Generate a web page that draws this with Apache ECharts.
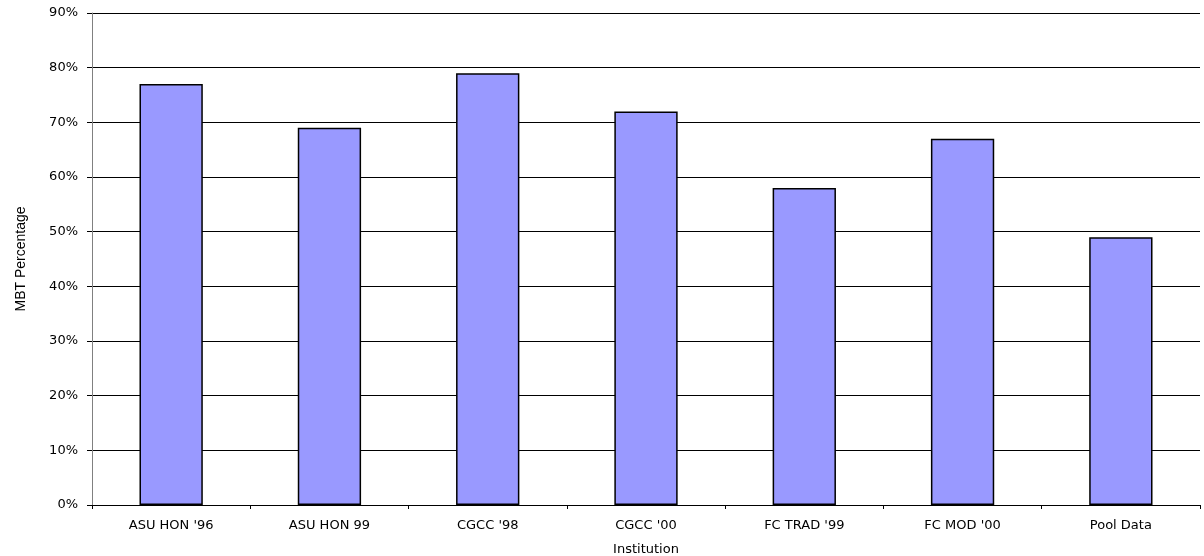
<!DOCTYPE html>
<html>
<head>
<meta charset="utf-8">
<script src="https://cdn.jsdelivr.net/npm/echarts@6/dist/echarts.min.js"></script>
<style>
  html, body { margin: 0; padding: 0; background: #fff; }
  #chart { width: 1204px; height: 556px; }
</style>
</head>
<body>
<div id="chart"></div>
<script>
// Institutions along the x axis
const institutions = ["ASU HON '96", "ASU HON 99", "CGCC '98", "CGCC '00", "FC TRAD '99", "FC MOD '00", "Pool Data"];
// MBT percentage per institution
const mbtPercent = [77, 69, 79, 72, 58, 67, 49];
// Value axis range and step (percent)
const yMin = 0, yMax = 90, yStep = 10;

const chart = echarts.init(document.getElementById('chart'));
const font = '"DejaVu Sans", "Liberation Sans", Arial, sans-serif';

chart.setOption({
  animation: false,
  grid: { left: 92, right: 4, top: 13, bottom: 51, containLabel: false, outerBoundsMode: 'none' },
  xAxis: {
    type: 'category',
    data: institutions,
    name: 'Institution',
    nameLocation: 'middle',
    nameGap: 38,
    nameTextStyle: { fontFamily: font, fontSize: 13, color: '#000' },
    axisLine: { lineStyle: { color: '#000', width: 1 } },
    axisTick: { show: true, length: 4, alignWithLabel: false, lineStyle: { color: '#000' } },
    axisLabel: { fontFamily: font, fontSize: 13, color: '#000', margin: 14, interval: 0 }
  },
  yAxis: {
    type: 'value',
    min: yMin, max: yMax, interval: yStep,
    name: 'MBT Percentage',
    nameLocation: 'middle',
    nameGap: 64,
    nameRotate: 90,
    nameTextStyle: { fontFamily: '"Liberation Sans", Arial, sans-serif', fontSize: 14, color: '#000' },
    axisLine: { show: true, lineStyle: { color: '#808080', width: 1 } },
    axisTick: { show: true, length: 5, lineStyle: { color: '#000' } },
    axisLabel: {
      fontFamily: font, fontSize: 13, color: '#000', margin: 14,
      formatter: '{value}%'
    },
    splitLine: { show: true, lineStyle: { color: '#000', width: 1 } }
  },
  series: [{
    type: 'bar',
    data: mbtPercent,
    barWidth: '40%',
    itemStyle: { color: '#9999ff', borderColor: '#000', borderWidth: 1.5 }
  }]
});
</script>
</body>
</html>
